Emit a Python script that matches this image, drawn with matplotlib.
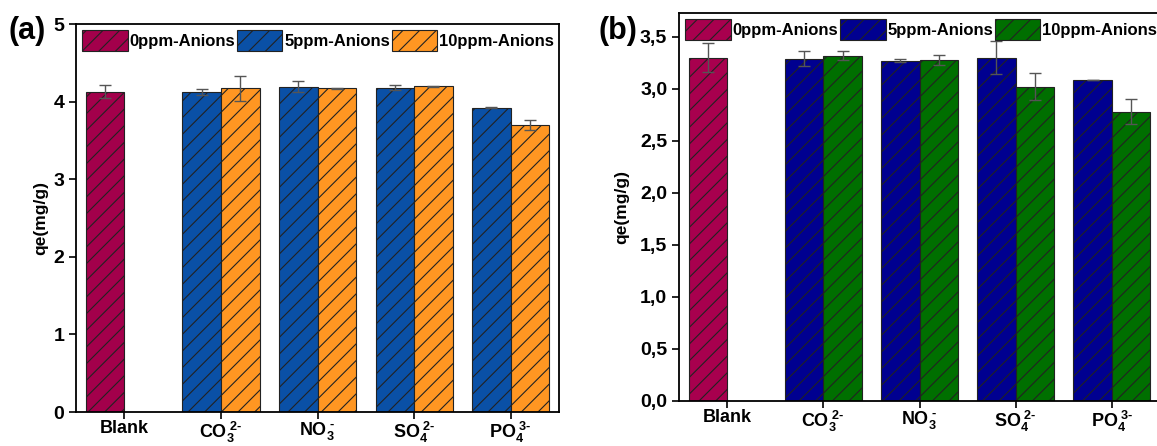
import matplotlib

matplotlib.use("Agg")
import matplotlib.pyplot as plt  # noqa: E402
import numpy as np  # noqa: E402

plt.rcParams["font.family"] = ["Liberation Sans", "DejaVu Sans"]
plt.rcParams["font.weight"] = "bold"
plt.rcParams["mathtext.fontset"] = "custom"
plt.rcParams["mathtext.rm"] = "Liberation Sans:bold"
plt.rcParams["mathtext.bf"] = "Liberation Sans:bold"
plt.rcParams["mathtext.it"] = "Liberation Sans:bold"
plt.rcParams["hatch.linewidth"] = 0.8

categories = ["Blank", r"$\mathbf{CO_3^{\ 2\text{-}}}$", r"$\mathbf{NO_3^{\ \text{-}}}$",
              r"$\mathbf{SO_4^{\ 2\text{-}}}$", r"$\mathbf{PO_4^{\ 3\text{-}}}$"]
series_names = ["0ppm-Anions", "5ppm-Anions", "10ppm-Anions"]

# panel (a)
a_blank, a_blank_err = 4.13, 0.08
a_5ppm = [4.12, 4.19, 4.18, 3.92]
a_5ppm_err = [0.04, 0.07, 0.03, 0.005]
a_10ppm = [4.17, 4.17, 4.20, 3.70]
a_10ppm_err = [0.16, 0.005, 0.005, 0.06]
a_colors = ["#A3004B", "#0A50A6", "#FF9622"]
a_yticks = [0, 1, 2, 3, 4, 5]
a_yticklabels = ["0", "1", "2", "3", "4", "5"]

# panel (b)
b_blank, b_blank_err = 3.30, 0.14
b_5ppm = [3.29, 3.27, 3.30, 3.09]
b_5ppm_err = [0.07, 0.015, 0.16, 0.0]
b_10ppm = [3.32, 3.28, 3.02, 2.78]
b_10ppm_err = [0.04, 0.05, 0.13, 0.12]
b_colors = ["#A8004E", "#000090", "#006F00"]
b_yticks = [0.0, 0.5, 1.0, 1.5, 2.0, 2.5, 3.0, 3.5]
b_yticklabels = ["0,0", "0,5", "1,0", "1,5", "2,0", "2,5", "3,0", "3,5"]


def draw_panel(ax, blank, blank_err, s5, s5_err, s10, s10_err, colors,
               yticks, yticklabels, ylim, tag, tag_xy, labelpad):
    w = 0.4
    x = np.arange(len(categories))
    err_kw = dict(ecolor="#555555", elinewidth=1.0, capsize=4, capthick=1.0)
    common = dict(width=w, align="edge", edgecolor="#222222", linewidth=0.8,
                  hatch="//")
    ax.bar([x[0] - w], [blank], yerr=[blank_err], color=colors[0],
           label=series_names[0], error_kw=err_kw, **common)
    ax.bar(x[1:] - w, s5, yerr=s5_err, color=colors[1],
           label=series_names[1], error_kw=err_kw, **common)
    ax.bar(x[1:], s10, yerr=s10_err, color=colors[2],
           label=series_names[2], error_kw=err_kw, **common)
    ax.set_xlim(-0.5, 4.5)
    ax.set_ylim(*ylim)
    ax.set_xticks(x)
    ax.set_xticklabels(categories, fontsize=13, fontweight="bold")
    ax.set_yticks(yticks)
    ax.set_yticklabels(yticklabels, fontsize=14, fontweight="bold")
    ax.tick_params(direction="out", length=5, width=1.2)
    ax.tick_params(axis="x", pad=1)
    for sp in ax.spines.values():
        sp.set_linewidth(1.3)
    ax.set_ylabel("qe(mg/g)", fontsize=12.5, fontweight="bold", labelpad=labelpad)
    ax.legend(loc="upper left", ncol=3, frameon=False,
              prop={"size": 12, "weight": "bold"},
              handlelength=2.75, handleheight=1.6, handletextpad=0.1,
              columnspacing=0.1, borderaxespad=0.25, borderpad=0.1)
    ax.figure.text(tag_xy[0], tag_xy[1], tag, fontsize=22, fontweight="bold",
                   ha="left", va="center")


fig = plt.figure(figsize=(11.57, 4.46), dpi=100)
ax_a = fig.add_axes([0.0657, 0.0762, 0.4175, 0.8699])
ax_b = fig.add_axes([0.5869, 0.1009, 0.4157, 0.870])

draw_panel(ax_a, a_blank, a_blank_err, a_5ppm, a_5ppm_err, a_10ppm, a_10ppm_err,
           a_colors, a_yticks, a_yticklabels, (0, 5), "(a)", (0.007, 0.93), 4)
draw_panel(ax_b, b_blank, b_blank_err, b_5ppm, b_5ppm_err, b_10ppm, b_10ppm_err,
           b_colors, b_yticks, b_yticklabels, (0, 3.73), "(b)", (0.517, 0.93), 8)

fig.savefig("out.png", dpi=100)
plt.close(fig)
